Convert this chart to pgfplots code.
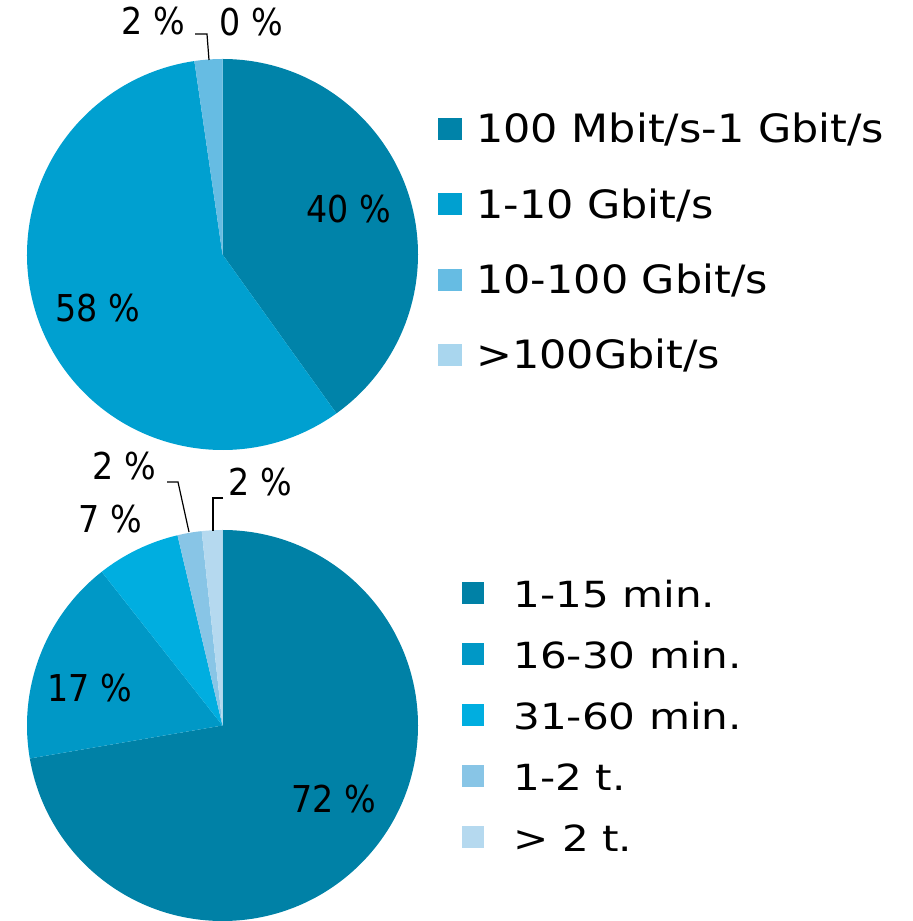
\documentclass[border=0pt]{standalone}
\usepackage{pgfplots}
\pgfplotsset{compat=1.18}
\usepackage{fontspec}
\setmainfont{DejaVu Sans}
\definecolor{tA}{HTML}{0083A9}
\definecolor{tB}{HTML}{00A0D0}
\definecolor{tC}{HTML}{66BCE3}
\definecolor{tD}{HTML}{A9D6EE}
\definecolor{bA}{HTML}{0081A6}
\definecolor{bB}{HTML}{0098C6}
\definecolor{bC}{HTML}{00AEE0}
\definecolor{bD}{HTML}{88C5E6}
\definecolor{bE}{HTML}{B5D9EF}
% slice: cx, cy (image px), from %, to %, colour ; radius 195.5 px = 97.75pt
\newcommand{\slice}[5]{%
  \fill[#5] (axis cs:#1,{921-#2}) -- ++({90-3.6*#3}:97.75pt)
    arc[start angle={90-3.6*#3}, end angle={90-3.6*#4}, radius=97.75pt] -- cycle;}
\newcommand{\plabel}[3]{\node[anchor=base, inner sep=0pt] at (axis cs:#1,{921-#2})
  {\scalebox{0.9}[1]{\fontsize{18.5pt}{20pt}\selectfont #3}};}
\newcommand{\tleg}[3]{%
  \fill[#2] (axis cs:438,{921-(#1-25)}) rectangle (axis cs:462,{921-(#1-3)});
  \node[anchor=base west, inner sep=0pt] at (axis cs:476,{921-#1})
  {\scalebox{1.1}[1]{\fontsize{19.5pt}{21pt}\selectfont #3}};}
\newcommand{\bleg}[3]{%
  \fill[#2] (axis cs:462,{921-(#1-26)}) rectangle (axis cs:484,{921-(#1-4)});
  \node[anchor=base west, inner sep=0pt] at (axis cs:513,{921-#1})
  {\scalebox{1.17}[1]{\fontsize{18pt}{20pt}\selectfont #3}};}
\begin{document}
\begin{tikzpicture}
\begin{axis}[
  width=456pt, height=460.5pt, scale only axis,
  xmin=0, xmax=912, ymin=0, ymax=921,
  hide axis, clip=false]
% --- top pie: 40.1, 57.6, 2.3, 0 (%)
\slice{222.5}{254.5}{0}{40.1}{tA}
\slice{222.5}{254.5}{40.1}{97.7}{tB}
\slice{222.5}{254.5}{97.7}{100}{tC}
\plabel{348.5}{223}{40 \%}
\plabel{97.5}{322}{58 \%}
\plabel{153.5}{35}{2 \%}
\plabel{251.5}{36}{0 \%}
\draw[line width=0.6pt] (axis cs:195,{921-34}) -- (axis cs:207,{921-34}) -- (axis cs:209,{921-60});
% --- bottom pie: 72.3, 17.1, 6.9, 2.0, 1.7 (%)
\slice{222.5}{725.5}{0}{72.3}{bA}
\slice{222.5}{725.5}{72.3}{89.4}{bB}
\slice{222.5}{725.5}{89.4}{96.3}{bC}
\slice{222.5}{725.5}{96.3}{98.3}{bD}
\slice{222.5}{725.5}{98.3}{100}{bE}
\plabel{333.5}{813}{72 \%}
\plabel{90}{702}{17 \%}
\plabel{110}{533}{7 \%}
\plabel{124.5}{480}{2 \%}
\plabel{260}{496}{2 \%}
\draw[line width=0.6pt] (axis cs:167,{921-482}) -- (axis cs:178,{921-482}) -- (axis cs:189,{921-532});
\draw[line width=0.6pt] (axis cs:223,{921-498}) -- (axis cs:213,{921-498}) -- (axis cs:213,{921-531});
% --- legends
\tleg{143}{tA}{100 Mbit/s-1 Gbit/s}
\tleg{218.5}{tB}{1-10 Gbit/s}
\tleg{294}{tC}{10-100 Gbit/s}
\tleg{369}{tD}{>100Gbit/s}
\bleg{608}{bA}{1-15 min.}
\bleg{669}{bB}{16-30 min.}
\bleg{730}{bC}{31-60 min.}
\bleg{791}{bD}{1-2 t.}
\bleg{852}{bE}{> 2 t.}
\end{axis}
\pgfresetboundingbox
\path (0,0) rectangle (456pt,460.5pt);
\end{tikzpicture}
\end{document}
